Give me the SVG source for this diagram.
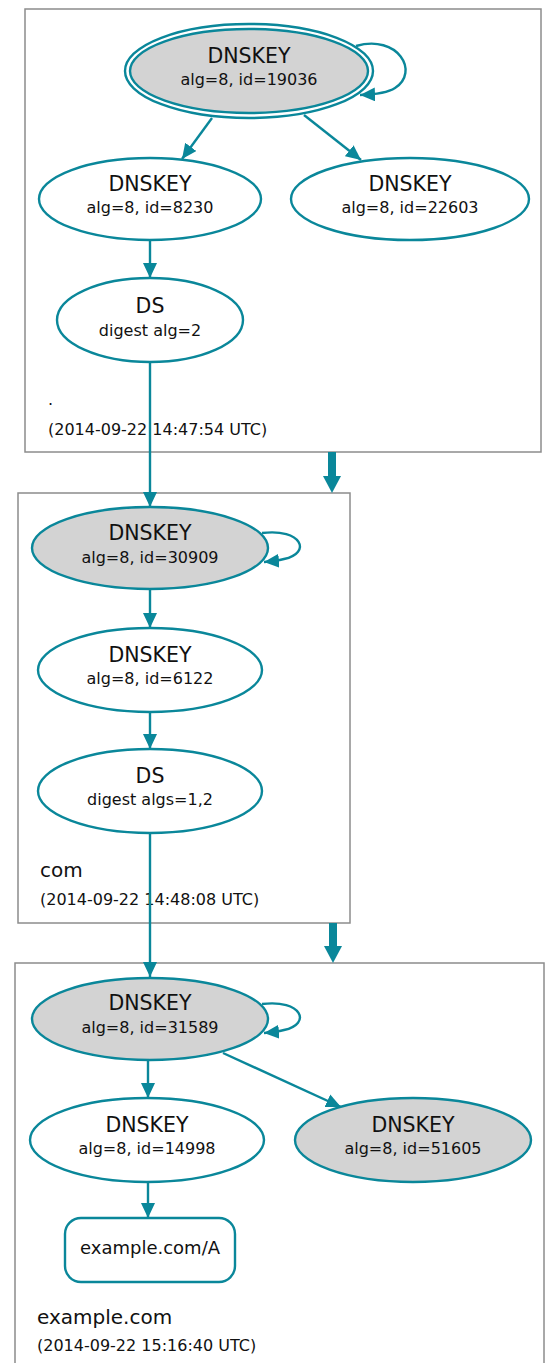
<svg xmlns="http://www.w3.org/2000/svg" width="545" height="1363" viewBox="0 0 545 1363">
<style>
  .zone { fill: #ffffff; stroke: #8c8c8c; stroke-width: 1.5; }
  .node { stroke: #0a879a; stroke-width: 2.4; fill: #ffffff; }
  .sep { fill: #d3d3d3; }
  .edge { stroke: #0a879a; stroke-width: 2.4; fill: none; marker-end: url(#ah); }
  .big { stroke: #0a879a; stroke-width: 8; fill: none; }
  .t1 { font-family: "DejaVu Sans", sans-serif; font-size: 20.5px; fill: #111; text-anchor: middle; }
  .t2 { font-family: "DejaVu Sans", sans-serif; font-size: 16px; fill: #111; text-anchor: middle; }
  .zl { font-family: "DejaVu Sans", sans-serif; font-size: 20px; fill: #111; }
  .zd { font-family: "DejaVu Sans", sans-serif; font-size: 16px; fill: #111; }
</style>
<defs>
  <marker id="ah" markerUnits="userSpaceOnUse" markerWidth="16" markerHeight="14" refX="15" refY="7" orient="auto">
    <path d="M0,0 L15,7 L0,14 z" fill="#0a879a"/>
  </marker>
</defs>
<rect width="545" height="1363" fill="#ffffff"/>
<g id="zones">
  <g id="zone-root">
    <rect class="zone" x="25" y="9" width="516" height="443"/>
    <text class="zd" x="48" y="405">.</text>
    <text class="zd" x="48" y="435">(2014-09-22 14:47:54 UTC)</text>
  </g>
  <g id="zone-com">
    <rect class="zone" x="18" y="493" width="332" height="430"/>
    <text class="zl" x="40" y="877">com</text>
    <text class="zd" x="40" y="905">(2014-09-22 14:48:08 UTC)</text>
  </g>
  <g id="zone-example">
    <rect class="zone" x="15" y="963" width="529" height="420"/>
    <text class="zl" x="37" y="1324">example.com</text>
    <text class="zd" x="37" y="1351">(2014-09-22 15:16:40 UTC)</text>
  </g>
</g>
<g id="connectors">
  <path class="edge" d="M356,46 C398,34 420,72 395,88 Q386,94 360,95"/>
  <path class="edge" d="M212,118 L182,159"/>
  <path class="edge" d="M304,115 L361,160"/>
  <path class="edge" d="M150,240 L150,278"/>
  <path class="edge" d="M150,362 L150,507"/>
  <path class="edge" d="M262,533 C302,528 312,553 284,559 Q276,561 264,562"/>
  <path class="edge" d="M150,590 L150,628"/>
  <path class="edge" d="M150,712 L150,749"/>
  <path class="edge" d="M150,833 L150,977"/>
  <path class="edge" d="M262,1004 C302,999 312,1024 284,1030 Q276,1032 264,1033"/>
  <path class="edge" d="M148,1060 L148,1098"/>
  <path class="edge" d="M223,1053 L341,1107"/>
  <path class="edge" d="M148,1182 L148,1218"/>
  <line class="big" x1="332" y1="452" x2="332" y2="477"/>
  <polygon points="323,476 341,476 332,493" fill="#0a879a"/>
  <line class="big" x1="333" y1="923" x2="333" y2="947"/>
  <polygon points="324,946 342,946 333,963" fill="#0a879a"/>
</g>
<g id="n-19036">
  <ellipse class="node" cx="249" cy="71" rx="124" ry="47"/>
  <ellipse class="node sep" cx="249" cy="71" rx="119" ry="42"/>
  <text class="t1" x="249" y="63">DNSKEY</text>
  <text class="t2" x="249" y="85">alg=8, id=19036</text>
</g>
<g id="n-8230">
  <ellipse class="node" cx="150" cy="199" rx="111" ry="41"/>
  <text class="t1" x="150" y="191">DNSKEY</text>
  <text class="t2" x="150" y="213">alg=8, id=8230</text>
</g>
<g id="n-22603">
  <ellipse class="node" cx="410" cy="199" rx="119" ry="41"/>
  <text class="t1" x="410" y="191">DNSKEY</text>
  <text class="t2" x="410" y="213">alg=8, id=22603</text>
</g>
<g id="n-ds-root">
  <ellipse class="node" cx="150" cy="320" rx="93" ry="42"/>
  <text class="t1" x="150" y="313">DS</text>
  <text class="t2" x="150" y="336">digest alg=2</text>
</g>
<g id="n-30909">
  <ellipse class="node sep" cx="150" cy="548" rx="118" ry="41"/>
  <text class="t1" x="150" y="540">DNSKEY</text>
  <text class="t2" x="150" y="563">alg=8, id=30909</text>
</g>
<g id="n-6122">
  <ellipse class="node" cx="150" cy="670" rx="112" ry="42"/>
  <text class="t1" x="150" y="662">DNSKEY</text>
  <text class="t2" x="150" y="684">alg=8, id=6122</text>
</g>
<g id="n-ds-com">
  <ellipse class="node" cx="150" cy="791" rx="112" ry="42"/>
  <text class="t1" x="150" y="783">DS</text>
  <text class="t2" x="150" y="805">digest algs=1,2</text>
</g>
<g id="n-31589">
  <ellipse class="node sep" cx="150" cy="1019" rx="118" ry="41"/>
  <text class="t1" x="150" y="1010">DNSKEY</text>
  <text class="t2" x="150" y="1033">alg=8, id=31589</text>
</g>
<g id="n-14998">
  <ellipse class="node" cx="147" cy="1140" rx="117" ry="42"/>
  <text class="t1" x="147" y="1132">DNSKEY</text>
  <text class="t2" x="147" y="1154">alg=8, id=14998</text>
</g>
<g id="n-51605">
  <ellipse class="node sep" cx="413" cy="1140" rx="118" ry="42"/>
  <text class="t1" x="413" y="1132">DNSKEY</text>
  <text class="t2" x="413" y="1154">alg=8, id=51605</text>
</g>
<g id="n-a">
  <rect class="node" x="65" y="1218" width="170" height="64" rx="16"/>
  <text class="t1" x="150" y="1254" style="font-size:18px">example.com/A</text>
</g>
</svg>
